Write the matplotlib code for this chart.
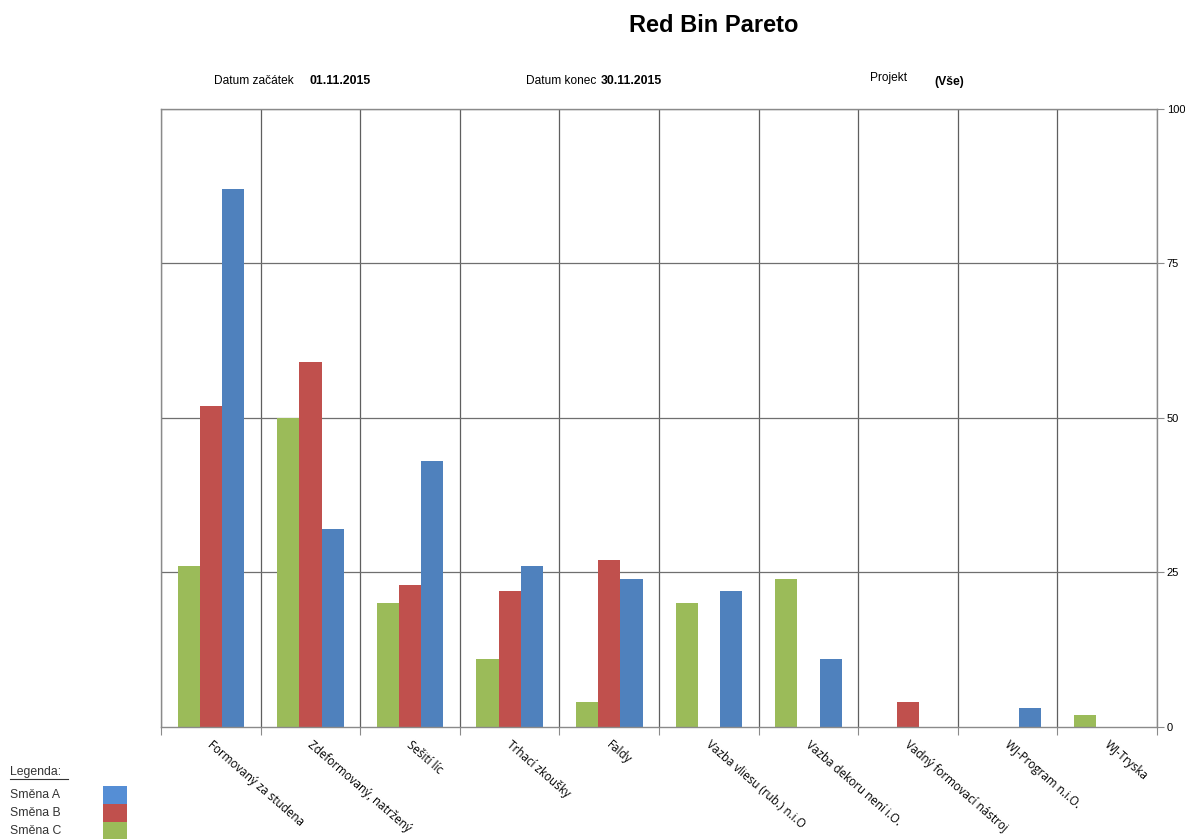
import numpy as np
import matplotlib.pyplot as plt
from matplotlib.patches import Rectangle

# Kategorie vad a pocty za smeny
kategorie = ['Formovaný za studena', 'Zdeformovaný, natržený', 'Sešití líc',
             'Trhací zkoušky', 'Faldy', 'Vazba vliesu (rub.) n.i.O',
             'Vazba dekoru není i.O.', 'Vadný formovací nástroj',
             'WJ-Program n.i.O.', 'WJ-Tryska']
smena_a = [87, 32, 43, 26, 24, 22, 11, 0, 3, 0]
smena_b = [52, 59, 23, 22, 27, 0, 0, 4, 0, 0]
smena_c = [26, 50, 20, 11, 4, 20, 24, 0, 0, 2]
y_ticks = [0, 25, 50, 75, 100]

barva_a = '#4F81BD'
barva_b = '#C0504D'
barva_c = '#9BBB59'

fig = plt.figure(figsize=(11.85, 8.39), dpi=100)
ax = fig.add_axes([0.1359, 0.1335, 0.8405, 0.7366])

x = np.arange(len(kategorie))
w = 0.223
ax.bar(x - w, smena_c, w, color=barva_c, linewidth=0)
ax.bar(x, smena_b, w, color=barva_b, linewidth=0)
ax.bar(x + w, smena_a, w, color=barva_a, linewidth=0)

ax.set_xlim(-0.5, len(kategorie) - 0.5)
ax.set_ylim(0, 100)

# mrizka: svisle cary mezi kategoriemi, vodorovne po 25
for b in np.arange(-0.5, len(kategorie), 1.0):
    ax.axvline(b, color='#5f5f5f', lw=0.9, zorder=0)
for t in y_ticks[1:]:
    ax.axhline(t, color='#6f6f6f', lw=0.9, zorder=0)

for s in ax.spines.values():
    s.set_color('#8a8a8a')
    s.set_linewidth(1.0)

ax.yaxis.tick_right()
ax.set_yticks(y_ticks)
ax.set_yticklabels([str(t) for t in y_ticks], fontsize=8,
                   family='Liberation Sans')
ax.tick_params(axis='y', length=5, color='#8a8a8a', pad=2)

ax.set_xticks(np.arange(-0.5, len(kategorie), 1.0))
ax.set_xticklabels([])
ax.tick_params(axis='x', length=6, color='#8a8a8a')

for i, k in enumerate(kategorie):
    ax.text(i + 0.03, -1.8, k, rotation=-41, ha='left', va='top',
            rotation_mode='anchor', fontsize=8.4, family='Open Sans',
            transform=ax.transData)

# nadpis a hlavicka
fig.text(0.602, 0.970, 'Red Bin Pareto', ha='center', va='center',
         fontsize=17, fontweight='bold', family='Liberation Sans')
hl = dict(fontsize=8.6, family='Liberation Sans', va='center')
hb = dict(fontsize=8.8, family='Liberation Sans', va='center', fontweight='bold')
fig.text(214 / 1185, 1 - 81 / 839, 'Datum začátek', **hl)
fig.text(309 / 1185, 1 - 81 / 839, '01.11.2015', **hb)
fig.text(526 / 1185, 1 - 81 / 839, 'Datum konec', **hl)
fig.text(601 / 1185, 1 - 81 / 839, '30.11.2015', **hb)
fig.text(870 / 1185, 1 - 78 / 839, 'Projekt', **hl)
fig.text(934 / 1185, 1 - 82 / 839, '(Vše)', **hb)

# legenda
lg = dict(fontsize=8.8, family='Liberation Sans', va='center', color='#333333')
fig.text(10 / 1185, 1 - 772 / 839, 'Legenda:', **lg)
fig.add_artist(plt.Line2D([10 / 1185, 68 / 1185], [1 - 779 / 839, 1 - 779 / 839],
                          color='#333333', lw=0.8, transform=fig.transFigure))
polozky = [('Směna A', '#558ED5'), ('Směna B', barva_b), ('Směna C', barva_c)]
for j, (nazev, barva) in enumerate(polozky):
    yc = 795 + j * 18
    fig.text(10 / 1185, 1 - yc / 839, nazev, **lg)
    fig.add_artist(Rectangle((103 / 1185, 1 - (yc + 9) / 839), 24 / 1185, 18 / 839,
                             facecolor=barva, edgecolor='none',
                             transform=fig.transFigure))

fig.savefig('out.png', dpi=100)
